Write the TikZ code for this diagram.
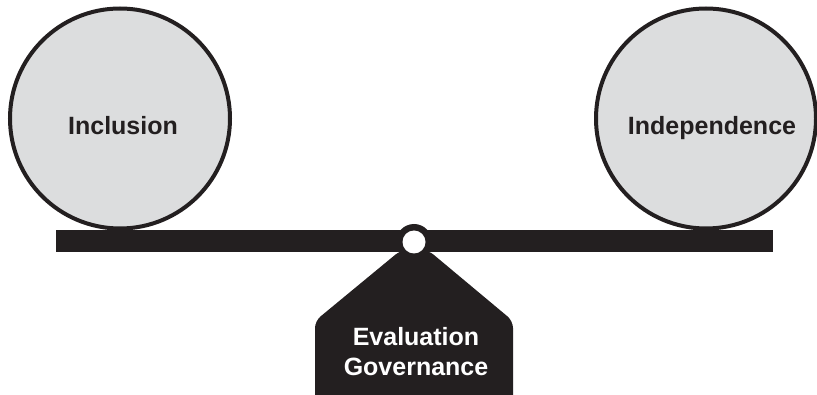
\documentclass[tikz,border=0pt]{standalone}
\usepackage{fontspec}
\setmainfont{Liberation Sans}
\usepackage{tikz}
\usetikzlibrary{
        positioning,
        shapes
    }
\definecolor{inkblack}{HTML}{231F20}
\definecolor{ballgray}{HTML}{DCDDDE}
\tikzset{ball/.style={circle,draw=inkblack,line width=4pt,fill=ballgray,minimum size=220pt,inner sep=0pt}}
\tikzset{balltext/.style={anchor=base,text=inkblack,font=\fontsize{25}{30}\selectfont\bfseries}}
\tikzset{basetext/.style={text=white,align=center,font=\fontsize{25}{30}\selectfont\bfseries}}

\begin{document}
\begin{tikzpicture}[x=1pt,y=-1pt]
                    \useasboundingbox (0,0) rectangle (817,395);
                    % beam
                    \fill[inkblack] (56,230) rectangle (773,252);
                    % pedestal
                    \fill[inkblack,rounded corners=7pt] (401,250) -- (315,321) -- (315,410) -- (513,410) -- (513,321) -- (428,250) -- cycle;
                    \node[circle,fill=inkblack,minimum size=36pt,inner sep=0pt] (pivot) at (414,242) {};
                    \node[circle,fill=white,minimum size=23pt,inner sep=0pt] (pin) at (pivot.center) {};
                    % weights
                    \node[ball] (incl) at (120,118.5) {};
                    \node[ball] (indep) at (706,118.5) {};
                    \node[balltext] (incltext) at (123,135) {Inclusion};
                    \node[balltext] (indeptext) at (712,135) {Independence};
                    \node[basetext] (gov) at (416,352) {Evaluation\\Governance};
                \end{tikzpicture}
\end{document}
